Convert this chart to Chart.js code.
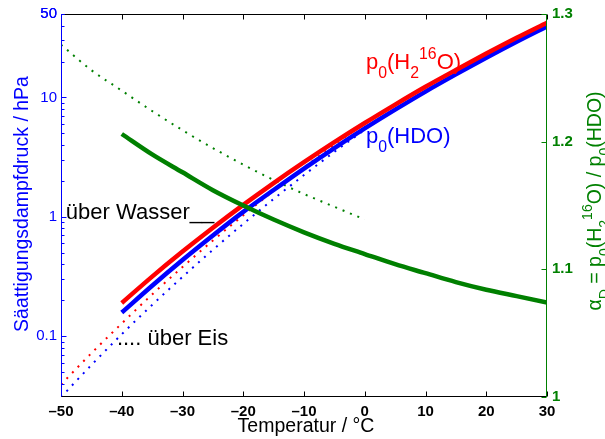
<!DOCTYPE html>
<html lang="de">
<head>
  <meta charset="UTF-8" />
  <title>Sättigungsdampfdruck von H2O und HDO</title>
  <script src="https://cdn.jsdelivr.net/npm/chart.js"></script>
  <style>
    body   { margin: 0; background: #fff; }
    canvas { display: block; }
  </style>
</head>
<body>
  <canvas id="dampfChart" width="605" height="439"></canvas>
  <script>
    // ── Daten ───────────────────────────────────────────────────────
    // Temperaturen in °C
    const tempWasser = [-40, -35, -30, -25, -20, -15, -10, -5, 0, 5, 10, 15, 20, 25, 30];
    const tempEis    = [-50, -45, -40, -35, -30, -25, -20, -15, -10, -5, 0];

    // Sättigungsdampfdruck in hPa
    const pH2OWasser = [0.190, 0.316, 0.512, 0.811, 1.26, 1.92, 2.87, 4.22, 6.11, 8.72, 12.3, 17.0, 23.3, 31.6, 42.3];
    const pHDOWasser = [0.158, 0.265, 0.435, 0.698, 1.10, 1.68, 2.54, 3.77, 5.50, 7.90, 11.2, 15.6, 21.5, 29.3, 39.4];
    const pH2OEis    = [0.0394, 0.0721, 0.128, 0.224, 0.380, 0.633, 1.03, 1.65, 2.60, 4.02, 6.11];
    const pHDOEis    = [0.0309, 0.0574, 0.104, 0.183, 0.314, 0.530, 0.874, 1.41, 2.24, 3.50, 5.37];

    // Fraktionierungsfaktor alpha_D = p0(H2 16O) / p0(HDO)
    const alphaWasser = [1.206, 1.190, 1.176, 1.162, 1.150, 1.139, 1.129, 1.120, 1.112, 1.104, 1.097, 1.090, 1.084, 1.079, 1.074];
    const alphaEis    = [1.276, 1.256, 1.240, 1.224, 1.209, 1.195, 1.182, 1.170, 1.159, 1.149, 1.139];

    // Achsenbeschriftungen
    const xTicks      = [-50, -40, -30, -20, -10, 0, 10, 20, 30];
    const yLogLabels  = [0.1, 1, 10, 50];
    const yRechtsTicks = [1, 1.1, 1.2, 1.3];

    // ── Farben & Schrift ────────────────────────────────────────────
    const ROT = '#ff0000', BLAU = '#0000ff', GRUEN = '#008000';
    const SCHRIFT = "'Liberation Sans', Arial, Helvetica, sans-serif";

    // Neben-Ticks der Log-Achse (2..9 je Dekade)
    const yLogTicks = [];
    [0.01, 0.1, 1, 10].forEach(d => {
      for (let m = 1; m <= 9; m++) {
        const v = +(m * d).toPrecision(3);
        if (v >= 0.031 && v <= 50) yLogTicks.push(v);
      }
    });
    yLogTicks.push(50);
    const istLabel = v => yLogLabels.some(l => Math.abs(l - v) / l < 1e-6);

    const punkte = (xs, ys) => xs.map((x, i) => ({ x: x, y: ys[i] }));

    // Text mit Tief-/Hochstellung zeichnen
    function formel(ctx, teile, x, y, groesse, align) {
      const klein = groesse * 0.72;
      let breite = 0;
      teile.forEach(t => {
        ctx.font = (t.s ? klein : groesse) + 'px ' + SCHRIFT;
        breite += ctx.measureText(t.t).width;
      });
      let cx = align === 'center' ? x - breite / 2 : x;
      teile.forEach(t => {
        ctx.font = (t.s ? klein : groesse) + 'px ' + SCHRIFT;
        const dy = t.s === 'sub' ? groesse * 0.4 : t.s === 'sup' ? -groesse * 0.45 : 0;
        ctx.fillText(t.t, cx, y + dy);
        cx += ctx.measureText(t.t).width;
      });
    }

    const pH2O = [{ t: 'p' }, { t: '0', s: 'sub' }, { t: '(H' }, { t: '2', s: 'sub' }, { t: '16', s: 'sup' }, { t: 'O)' }];
    const pHDO = [{ t: 'p' }, { t: '0', s: 'sub' }, { t: '(HDO)' }];

    // Beschriftungen im Diagramm (Position in Datenkoordinaten)
    const notizen = [
      { teile: pH2O, x: 0.2, y: 17.4, farbe: ROT },
      { teile: pHDO, x: 0.2, y: 4.14, farbe: BLAU },
      { teile: [{ t: 'über Wasser__' }], x: -49.2, y: 0.957, farbe: '#000' },
      { teile: [{ t: '.... über Eis' }], x: -40.8, y: 0.0853, farbe: '#000' }
    ];

    // Rahmen, nach innen zeigende Ticks, Achsentitel, Notizen
    const rahmen = {
      id: 'rahmen',
      afterDraw(chart) {
        const { ctx, chartArea: a, scales } = chart;
        const L = a.left + 0.5, R = a.right - 0.5, T = a.top + 0.5, B = a.bottom - 0.5;
        ctx.save();
        ctx.lineWidth = 1;

        // oben und unten schwarz
        ctx.strokeStyle = '#000';
        ctx.beginPath();
        ctx.moveTo(L, T); ctx.lineTo(R, T);
        ctx.moveTo(L, B); ctx.lineTo(R, B);
        xTicks.forEach(v => {
          const px = Math.round(scales.x.getPixelForValue(v)) + 0.5;
          ctx.moveTo(px, B); ctx.lineTo(px, B - 5);
          ctx.moveTo(px, T); ctx.lineTo(px, T + 5);
        });
        ctx.stroke();

        // links blau (log)
        ctx.strokeStyle = BLAU;
        ctx.beginPath();
        ctx.moveTo(L, T); ctx.lineTo(L, B);
        yLogTicks.forEach(v => {
          const py = Math.round(scales.y.getPixelForValue(v)) + 0.5;
          const len = (istLabel(v) && v !== 50) ? 5 : 3;
          ctx.moveTo(L, py); ctx.lineTo(L + len, py);
        });
        ctx.stroke();

        // rechts grün
        ctx.strokeStyle = GRUEN;
        ctx.beginPath();
        ctx.moveTo(R, T); ctx.lineTo(R, B + 0.5);
        yRechtsTicks.forEach(v => {
          const py = Math.round(scales.y2.getPixelForValue(v)) + 0.5;
          ctx.moveTo(R, py); ctx.lineTo(R - 5, py);
        });
        ctx.stroke();

        // Achsentitel
        ctx.textBaseline = 'alphabetic';
        ctx.fillStyle = '#000';
        ctx.textAlign = 'center';
        ctx.font = '19.5px ' + SCHRIFT;
        ctx.fillText('Temperatur / °C', 306, 432);

        ctx.save();
        ctx.translate(28, 204);
        ctx.rotate(-Math.PI / 2);
        ctx.fillStyle = BLAU;
        ctx.fillText('Säattigungsdampfdruck / hPa', 0, 0);
        ctx.restore();

        ctx.save();
        ctx.translate(601, 201);
        ctx.rotate(-Math.PI / 2);
        ctx.fillStyle = GRUEN;
        ctx.textAlign = 'left';
        formel(ctx, [{ t: 'α' }, { t: 'D', s: 'sub' }, { t: ' = ' }].concat(pH2O, [{ t: ' / ' }], pHDO),
               0, 0, 19.5, 'center');
        ctx.restore();

        // Notizen
        ctx.textAlign = 'left';
        notizen.forEach(n => {
          ctx.fillStyle = n.farbe;
          formel(ctx, n.teile, scales.x.getPixelForValue(n.x), scales.y.getPixelForValue(n.y), 22, 'left');
        });
        ctx.restore();
      }
    };

    const linie = (daten, farbe, achse, gepunktet) => ({
      data: daten,
      yAxisID: achse,
      borderColor: farbe,
      borderWidth: gepunktet ? 2 : 4.5,
      borderDash: gepunktet ? [2, 6] : [],
      borderCapStyle: 'butt',
      pointRadius: 0,
      fill: false,
      cubicInterpolationMode: 'monotone'
    });

    new Chart(document.getElementById('dampfChart').getContext('2d'), {
      type: 'line',
      data: {
        datasets: [
          linie(punkte(tempWasser, alphaWasser), GRUEN, 'y2', false),
          linie(punkte(tempWasser, pH2OWasser), ROT, 'y', false),
          linie(punkte(tempWasser, pHDOWasser), BLAU, 'y', false),
          linie(punkte(tempEis, alphaEis), GRUEN, 'y2', true),
          linie(punkte(tempEis, pH2OEis), ROT, 'y', true),
          linie(punkte(tempEis, pHDOEis), BLAU, 'y', true)
        ]
      },
      options: {
        responsive: false,
        animation: false,
        devicePixelRatio: 1,
        layout: { padding: { top: 12, left: 0, right: 0, bottom: 0 } },
        plugins: { legend: { display: false }, tooltip: { enabled: false } },
        scales: {
          x: {
            type: 'linear', min: -50, max: 30, position: 'bottom',
            grid: { display: false, drawTicks: false }, border: { display: false },
            afterBuildTicks: s => { s.ticks = xTicks.map(v => ({ value: v })); },
            afterFit: s => { s.height = 42; },
            ticks: {
              color: '#000', padding: 6, maxRotation: 0, autoSkip: false,
              font: { family: SCHRIFT, size: 15, weight: 'bold' },
              callback: v => String(v).replace('-', '\u2013')
            }
          },
          y: {
            type: 'logarithmic', min: 0.031, max: 50, position: 'left',
            grid: { display: false, drawTicks: false }, border: { display: false },
            afterBuildTicks: s => { s.ticks = yLogTicks.map(v => ({ value: v })); },
            afterFit: s => { s.width = 61; },
            ticks: {
              color: BLAU, padding: 4, autoSkip: false,
              font: { family: SCHRIFT, size: 15 },
              callback: v => istLabel(v) ? String(v) : ''
            }
          },
          y2: {
            type: 'linear', min: 1, max: 1.3, position: 'right',
            grid: { display: false, drawTicks: false }, border: { display: false },
            afterBuildTicks: s => { s.ticks = yRechtsTicks.map(v => ({ value: v })); },
            afterFit: s => { s.width = 58; },
            ticks: {
              color: GRUEN, padding: 5, autoSkip: false,
              font: { family: SCHRIFT, size: 15, weight: 'bold' },
              callback: v => String(Math.round(v * 10) / 10)
            }
          }
        }
      },
      plugins: [rahmen]
    });
  </script>
</body>
</html>
